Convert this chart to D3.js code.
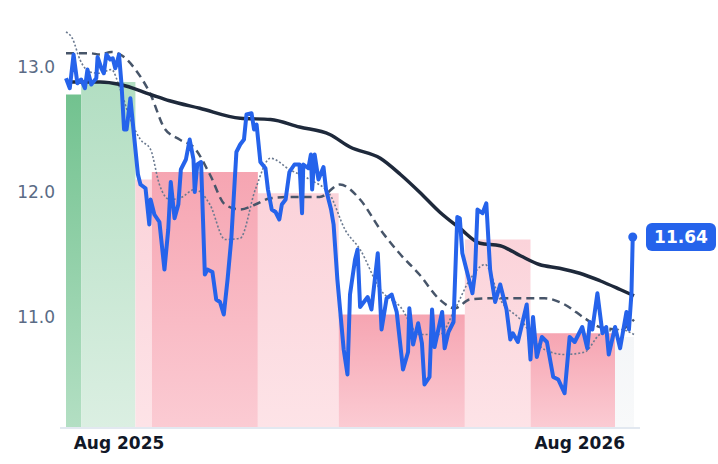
<!DOCTYPE html>
<html><head><meta charset="utf-8">
<script src="https://cdn.jsdelivr.net/npm/d3@7"></script>
<style>body{margin:0;background:#fff;font-family:"DejaVu Sans",sans-serif}</style>
</head><body><svg id="chart" width="718" height="464"></svg>
<script>
// days since 2025-06-20 and price
const priceDays = [0,3,6,9,12,15,17,20,24,25,28,30,32,35,37,39,40,42,44,46,48,51,55,57,59,63,66,67,70,74,78,81,83,86,89,91,95,98,101,102,104,107,110,112,116,119,122,125,128,131,135,138,141,143,147,149,151,154,158,160,163,166,169,171,174,177,181,185,187,188,192,194,195,197,200,204,206,210,212,215,220,223,225,229,231,233,239,242,247,250,254,258,262,267,271,272,275,279,282,284,288,290,292,298,300,303,307,310,312,314,318,322,324,326,330,333,336,340,344,349,352,354,358,365,368,370,373,377,381,386,390,395,399,403,409,413,415,417,421,425,428,430,435,439,444,446,448,449];
const priceVals = [12.91,12.83,13.10,12.87,12.90,12.83,12.98,12.86,12.91,13.08,12.99,12.95,13.10,13.06,13.07,12.99,13.02,13.10,12.86,12.50,12.50,12.75,12.34,12.14,12.06,12.03,11.74,11.94,11.82,11.76,11.38,11.70,12.08,11.79,11.90,12.18,12.26,12.42,12.26,12.00,12.22,12.24,11.34,11.38,11.36,11.14,11.12,11.02,11.30,11.63,12.32,12.38,12.42,12.62,12.63,12.50,12.54,12.24,12.19,12.02,11.86,11.84,11.78,11.90,11.94,12.16,12.22,12.22,11.83,12.22,12.19,12.30,12.02,12.30,12.10,12.20,12.02,11.86,11.74,11.30,10.74,10.54,11.18,11.46,11.54,11.08,11.16,11.06,11.51,10.90,11.15,11.18,11.04,10.58,10.72,11.07,10.78,10.95,10.79,10.46,10.52,11.06,10.76,11.04,10.75,10.88,10.96,11.80,11.79,11.51,11.35,11.19,11.35,11.86,11.83,11.91,11.38,11.12,11.26,11.06,10.82,10.87,10.80,11.10,10.66,11.00,10.68,10.84,10.80,10.52,10.50,10.39,10.84,10.80,10.92,10.75,10.96,10.90,11.19,10.87,10.92,10.70,10.92,10.75,11.04,10.90,11.19,11.64];

const longDays = [0,27,43,67,82,106,138,162,185,209,225,249,265,280,296,312,328,344,360,375,391,407,423,439,450];
const longVals = [12.88,12.88,12.86,12.78,12.73,12.67,12.59,12.58,12.52,12.46,12.36,12.27,12.14,12.00,11.84,11.71,11.59,11.57,11.49,11.42,11.39,11.35,11.29,11.22,11.17];

const midDays = [0,19,27,36,43,55,67,78,90,102,114,126,138,150,162,177,201,217,233,249,265,280,296,308,320,336,360,379,395,411,423,439,450];
const midVals = [13.11,13.11,13.10,13.12,13.10,12.98,12.78,12.51,12.42,12.35,12.14,11.90,11.86,11.90,11.95,11.96,11.96,12.06,11.94,11.70,11.50,11.34,11.14,11.07,11.14,11.15,11.15,11.15,11.10,10.99,10.92,10.90,10.98];

const shortDays = [0,5,11,19,27,36,43,51,59,67,74,82,90,102,114,126,138,150,162,177,193,209,221,233,249,265,280,296,308,320,332,344,360,379,395,411,423,439,450];
const shortVals = [13.28,13.23,13.06,12.96,12.95,12.98,12.82,12.58,12.42,12.34,12.06,11.94,11.95,12.02,11.90,11.62,11.63,12.02,12.27,12.18,12.10,11.98,11.70,11.54,11.22,11.08,10.86,10.86,11.06,11.30,11.42,11.14,10.98,10.74,10.70,10.72,10.86,10.90,10.86];

// background bands: start day, end day, top value, kind
const bandStart = [0,12,55,68,152,216,316,368,435];
const bandEnd   = [12,55,68,152,216,316,368,435,450];
const bandTop   = [12.78,12.88,12.10,12.16,11.99,11.02,11.62,10.87,10.84];
const bandKind  = ['gd','gl','rl','rd','rl','rd','rl','rd','n'];

const yTicks = [11, 12, 13];
const xTicks = ['2025-08-01', '2026-08-01'];
const lastLabel = '11.64';

const t0 = new Date(2025, 5, 20);
const day = d => new Date(t0.getTime() + d * 864e5);

const svg = d3.select('#chart');
const x = d3.scaleTime().domain([day(0), day(450)]).range([66, 634]);
const y = d3.scaleLinear().domain([10, 13]).range([442, 67]);
const base = 427;

const defs = svg.append('defs');
const grads = {
  gd: ['#72c28f', '#b3dfc3'],
  gl: ['#b2dec2', '#dbefe2'],
  rd: ['#f6a5b2', '#fbcbd3'],
  rl: ['#fbd3da', '#fde3e7'],
  n:  ['#f4f6f8', '#f8f9fa']
};
Object.entries(grads).forEach(([k, c]) => {
  const g = defs.append('linearGradient').attr('id', 'g' + k)
    .attr('x1', 0).attr('y1', 0).attr('x2', 0).attr('y2', 1);
  g.append('stop').attr('offset', '0%').attr('stop-color', c[0]);
  g.append('stop').attr('offset', '100%').attr('stop-color', c[1]);
});

svg.append('g').selectAll('rect').data(bandStart).join('rect')
  .attr('x', (d, i) => x(day(d)))
  .attr('width', (d, i) => x(day(bandEnd[i])) - x(day(d)))
  .attr('y', (d, i) => y(bandTop[i]))
  .attr('height', (d, i) => base - y(bandTop[i]))
  .attr('fill', (d, i) => 'url(#g' + bandKind[i] + ')');

svg.append('line').attr('x1', 60).attr('x2', 640).attr('y1', base + 1).attr('y2', base + 1)
  .attr('stroke', '#e2e8f0').attr('stroke-width', 2);

const line = d3.line().x(d => x(day(d[0]))).y(d => y(d[1]));
const zip = (a, b) => a.map((d, i) => [d, b[i]]);

svg.append('path').datum(zip(shortDays, shortVals)).attr('d', line.curve(d3.curveMonotoneX))
  .attr('fill', 'none').attr('stroke', '#6b7a90').attr('stroke-width', 1.6).attr('stroke-dasharray', '2,2');
svg.append('path').datum(zip(midDays, midVals)).attr('d', line.curve(d3.curveMonotoneX))
  .attr('fill', 'none').attr('stroke', '#475569').attr('stroke-width', 2.5).attr('stroke-dasharray', '8,5');
svg.append('path').datum(zip(longDays, longVals)).attr('d', line.curve(d3.curveMonotoneX))
  .attr('fill', 'none').attr('stroke', '#1e293b').attr('stroke-width', 3.5);
svg.append('path').datum(zip(priceDays, priceVals)).attr('d', line.curve(d3.curveLinear))
  .attr('fill', 'none').attr('stroke', '#2563eb').attr('stroke-width', 4).attr('stroke-linejoin', 'round');

const lastD = priceDays[priceDays.length - 1], lastV = priceVals[priceVals.length - 1];
svg.append('circle').attr('cx', x(day(lastD))).attr('cy', y(lastV)).attr('r', 4.5).attr('fill', '#2563eb');
svg.append('rect').attr('x', 646).attr('y', y(lastV) - 14).attr('width', 70).attr('height', 28)
  .attr('rx', 6).attr('fill', '#2563eb');
svg.append('text').attr('x', 681).attr('y', y(lastV) + 6).attr('text-anchor', 'middle')
  .attr('fill', '#fff').attr('font-weight', 'bold').attr('font-size', 17).text(lastLabel);

svg.append('g').selectAll('text').data(yTicks).join('text')
  .attr('x', 55).attr('y', d => y(d) + 6).attr('text-anchor', 'end')
  .attr('fill', '#5a6b85').attr('font-size', 17).text(d => d.toFixed(1));

svg.append('g').selectAll('text').data(xTicks).join('text')
  .attr('x', d => x(new Date(d + 'T00:00'))).attr('y', 449).attr('text-anchor', 'middle')
  .attr('fill', '#111827').attr('font-weight', 'bold').attr('font-size', 17)
  .text(d => d3.timeFormat('%b %Y')(new Date(d + 'T00:00')));
</script></body></html>
